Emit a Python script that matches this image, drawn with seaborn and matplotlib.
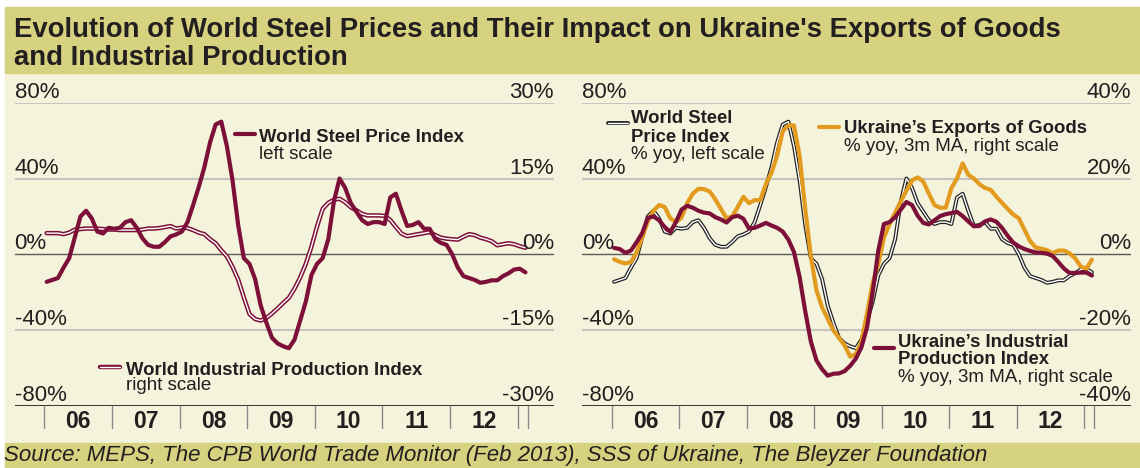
import numpy as np
import seaborn as sns
import matplotlib.pyplot as plt
import matplotlib.transforms as mtransforms
from matplotlib.patches import Rectangle
from matplotlib.lines import Line2D

# monthly values, Jan 2006 - Feb 2013
steel_price = [-14.5, -13.5, -12.5, -7, -2, 9, 20, 23, 19, 12, 11, 14,
               13.5, 14, 17, 18, 14, 8.5, 5, 4, 4, 6.5, 9.5, 10.5,
               12, 17, 26, 35.5, 46, 59, 68.5, 70, 57, 39, 15.5, -2,
               -5, -13, -27, -36, -44, -47, -48.5, -49.5, -45, -35, -25, -11,
               -5, -2, 8, 28, 40, 35, 27, 22.5, 18, 16, 17, 17,
               16, 30, 32, 23, 15, 15.5, 17, 13.5, 13.5, 8, 6, 5,
               0, -7, -11.5, -12.5, -13.5, -15, -14.5, -13.7, -13.7, -11.5, -10, -8,
               -7.6, -9.5]
world_ip = [4.2, 4.2, 4.2, 4.0, 4.3, 4.9, 5.0, 5.1, 5.1, 5.1, 5.0, 4.9,
            4.9, 4.8, 4.8, 4.8, 4.8, 4.9, 5.1, 5.1, 5.2, 5.4, 5.6, 5.1,
            5.3, 5.2, 4.8, 4.3, 4.0, 3.0, 2.2, 0.8, -0.4, -2.5, -5.0, -8.5,
            -11.8, -12.8, -13.1, -12.6, -11.7, -10.7, -9.6, -8.6, -6.8, -4.6, -1.9, 1.5,
            5.5, 9.0, 10.2, 10.8, 11.0, 10.3, 9.3, 8.7, 8.0, 7.7, 7.7, 7.7,
            7.6, 6.8, 5.4, 4.1, 3.6, 3.8, 4.0, 4.2, 4.4, 3.8, 3.3, 3.1,
            3.0, 2.9, 3.5, 4.0, 3.8, 3.3, 3.0, 2.6, 1.8, 2.0, 2.2, 2.0,
            1.6, 1.3]
ukr_exports = [-1.3, -2.0, -2.4, -2.0, 0.5, 4.5, 8.7, 11.5, 13.0, 12.5, 9.5, 8.5,
               9.7, 13.5, 16.0, 17.3, 17.2, 16.6, 14.5, 12.0, 9.5, 10.0, 12.5, 15.2,
               13.5, 14.3, 14.3, 18.5, 21.5, 26.0, 32.5, 34.0, 34.0, 26.0, 12.0, -0.5,
               -9.5, -14.0, -17.0, -20.0, -22.0, -24.0, -27.0, -26.3, -23.0, -15.5, -7.5, -2.5,
               4.5, 8.0, 11.0, 14.0, 16.8, 19.5, 20.3, 19.2, 16.0, 13.0, 12.3, 12.3,
               17.5, 20.0, 24.0, 21.0, 20.0, 18.5, 17.5, 17.0, 15.2, 13.6, 12.0, 10.5,
               9.5, 6.5, 3.5, 1.8, 1.5, 1.1, 0.3, 1.0, 1.0, 0.3, -1.0, -3.2,
               -3.8, -1.4]
ukr_ip = [1.7, 1.4, 0.4, 1.0, 3.2, 5.6, 9.6, 10.0, 9.0, 7.2, 5.9, 8.5,
          11.8, 12.8, 12.3, 11.5, 11.0, 10.8, 9.8, 9.2, 8.4, 9.8, 10.2, 9.4,
          6.8, 7.0, 7.6, 8.3, 7.6, 7.0, 6.0, 3.9, 0.6, -6.0, -15.0, -23.0,
          -28.0, -30.3, -32.0, -31.5, -31.4, -30.8, -29.4, -27.5, -24.5, -19.2, -10.0, 1.0,
          8.0, 8.5, 9.8, 11.8, 13.8, 13.0, 10.2, 8.3, 7.9, 9.0, 10.1, 10.6,
          10.9, 11.2, 10.1, 8.7, 7.4, 7.5, 8.7, 9.2, 8.6, 7.0, 4.9, 3.1,
          2.1, 1.4, 0.9, 0.5, 0.4, 0.2, -0.4, -2.0, -3.7, -4.9, -4.9, -4.8,
          -4.8, -5.6]

years = ['06', '07', '08', '09', '10', '11', '12']
left_scale = [80, 40, 0, -40, -80]
right_scale_1 = [30, 15, 0, -15, -30]
right_scale_2 = [40, 20, 0, -20, -40]

# months since Jan 2006, points sit a little into each month
months = np.arange(len(steel_price)) + 0.4

DARK_RED = '#7d1038'
ORANGE = '#e39b1f'
CREAM = '#f4f3dc'
KHAKI = '#d7d27f'
INK = '#231f20'
GRID = '#c4c4c0'

sns.set_style('white')
plt.rcParams['font.family'] = ['Liberation Sans', 'DejaVu Sans']
plt.rcParams['text.color'] = INK

W, H = 1140, 468
fig = plt.figure(figsize=(W / 100, H / 100), dpi=100)
fig.patch.set_facecolor('white')


def fx(x):
    return x / W


def fy(y):
    return 1 - y / H


# background bands
fig.add_artist(Rectangle((fx(5), 0), 1, fy(7), transform=fig.transFigure,
                         color=CREAM, zorder=-10))
fig.add_artist(Rectangle((fx(5), fy(73)), 1, 66 / H, transform=fig.transFigure,
                         color=KHAKI, zorder=-9))
fig.add_artist(Rectangle((fx(5), 0), 1, 25 / H, transform=fig.transFigure,
                         color=KHAKI, zorder=-9))

fig.text(fx(14), fy(36.7), "Evolution of World Steel Prices and Their Impact on Ukraine's Exports of Goods",
         fontsize=19.8, fontweight='bold', va='baseline')
fig.text(fx(14), fy(65), "and Industrial Production",
         fontsize=19.8, fontweight='bold', va='baseline')
fig.text(fx(4), fy(461.5),
         "Source: MEPS, The CPB World Trade Monitor (Feb 2013), SSS of Ukraine, The Bleyzer Foundation",
         fontsize=16, style='italic', va='baseline')

AX_TOP, AX_BOT = 102.7, 406


def make_panel(x0, x1, xmax, host_lim, twin_lim):
    ax = fig.add_axes([fx(x0), fy(AX_BOT), fx(x1) - fx(x0), (AX_BOT - AX_TOP) / H])
    ax.set_xlim(-5.31, xmax)
    ax.set_ylim(-host_lim, host_lim)
    ax.set_axis_off()
    tw = ax.twinx()
    tw.set_ylim(-twin_lim, twin_lim)
    tw.set_axis_off()

    # grid
    for frac in [1.0, 0.5, -0.5]:
        ax.axhline(frac * host_lim, color=GRID, lw=1.5, zorder=0)
    ax.axhline(0, color='#5a5a5a', lw=1.0, zorder=0)
    ax.axhline(-host_lim, color='#333333', lw=1.4, zorder=0)

    # year ticks + labels
    tr = mtransforms.blended_transform_factory(ax.transData, ax.transAxes)
    tick_len = 22 / (AX_BOT - AX_TOP)
    for x in list(np.arange(0, 85, 12)) + [months[-1] + 0.4]:
        ax.add_line(Line2D([x, x], [0, -tick_len], transform=tr, clip_on=False,
                           color='#8a8a8a', lw=1.0))
    for i, lab in enumerate(years):
        ax.text(6 + 12 * i, -16 / (AX_BOT - AX_TOP), lab, transform=tr,
                ha='center', va='center', fontsize=16.5, fontweight='bold')
    return ax, tw


def scale_labels(ax_l, ax_r, left_vals, right_vals):
    trl = mtransforms.blended_transform_factory(ax_l.transAxes, ax_l.transData)
    trr = mtransforms.blended_transform_factory(ax_r.transAxes, ax_r.transData)
    for v in left_vals:
        ax_l.text(0, v, f'{v}%', transform=trl, ha='left', va='bottom', fontsize=16)
    for v in right_vals:
        ax_r.text(1, v, f'{v}%', transform=trr, ha='right', va='bottom', fontsize=16)


def swatch(x0, x1, y, color, lw, inner=None):
    fig.add_artist(Line2D([fx(x0), fx(x1)], [fy(y), fy(y)], transform=fig.transFigure,
                          color=color, lw=lw, solid_capstyle='round'))
    if inner:
        fig.add_artist(Line2D([fx(x0), fx(x1)], [fy(y), fy(y)], transform=fig.transFigure,
                              color=inner, lw=1.0, solid_capstyle='round'))


def label(x, y, s, bold=False):
    fig.text(fx(x), fy(y), s, fontsize=13.3 if bold else 13.5,
             fontweight='bold' if bold else 'normal', va='baseline')


# ---- left panel: host = right scale (industrial production), twin = steel (left scale)
axA, axA_steel = make_panel(14.5, 554, 90.47, 30, 80)
sns.lineplot(x=months, y=world_ip, ax=axA, color=DARK_RED, lw=3.2, legend=False)
sns.lineplot(x=months, y=world_ip, ax=axA, color='white', lw=1.0, legend=False)
sns.lineplot(x=months, y=steel_price, ax=axA_steel, color=DARK_RED, lw=3.0, legend=False)
scale_labels(axA_steel, axA, left_scale, right_scale_1)

swatch(234.5, 254.5, 134, DARK_RED, 3.0)
label(259, 141.7, "World Steel Price Index", bold=True)
label(259, 159, "left scale")
swatch(100, 120, 366.7, DARK_RED, 3.2, inner='white')
label(126, 375, "World Industrial Production Index", bold=True)
label(126, 390, "right scale")

# ---- right panel: host = steel (left scale), twin = Ukraine (right scale)
axB, axB_ukr = make_panel(582, 1131, 92.35, 80, 40)
sns.lineplot(x=months, y=steel_price, ax=axB, color='#222222', lw=2.8, legend=False)
sns.lineplot(x=months, y=steel_price, ax=axB, color='white', lw=1.0, legend=False)
sns.lineplot(x=months, y=ukr_exports, ax=axB_ukr, color=ORANGE, lw=3.0, legend=False)
sns.lineplot(x=months, y=ukr_ip, ax=axB_ukr, color=DARK_RED, lw=3.0, legend=False)
scale_labels(axB, axB_ukr, left_scale, right_scale_2)

swatch(608, 628, 123.3, '#222222', 2.8, inner='white')
label(631, 123.3, "World Steel", bold=True)
label(631, 141.7, "Price Index", bold=True)
label(631, 159.3, "% yoy, left scale")
swatch(819, 839, 126.7, ORANGE, 3.0)
label(843.5, 133.3, "Ukraine\u2019s Exports of Goods", bold=True)
label(843.5, 151, "% yoy, 3m MA, right scale")
swatch(873.6, 893.6, 348.3, DARK_RED, 3.0)
label(898, 346.7, "Ukraine\u2019s Industrial", bold=True)
label(898, 364, "Production Index", bold=True)
label(898, 381.7, "% yoy, 3m MA, right scale")

fig.savefig('out.png', dpi=100, facecolor=fig.get_facecolor())
